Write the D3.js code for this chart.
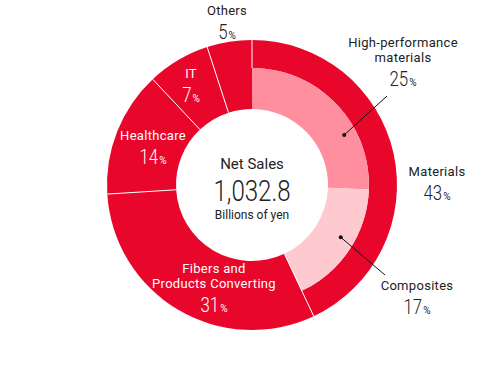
<!DOCTYPE html>
<html>
<head>
<meta charset="utf-8">
<script src="https://cdn.jsdelivr.net/npm/d3@7"></script>
<style>
  body { margin: 0; background: #fff; }
  text { font-family: Roboto, "Noto Sans", sans-serif; }
</style>
</head>
<body>
<div id="chart"></div>
<script>
const width = 500;
const height = 367;

// segments, clockwise from the top
const categories = ["Materials", "Fibers and Products Converting", "Healthcare", "IT", "Others"];
const shares = [43, 31, 14, 7, 5];
// split of Materials
const subCategories = ["High-performance materials", "Composites"];
const subShares = [25, 17];
const totalSales = "1,032.8";

const cx = 252, cy = 185;
const rOuter = 145, rMid = 117, rHole = 76;
const red = "#e9062b";
const subColors = ["#ff8e9e", "#ffc9d0"];
const squeeze = 0.8; // narrow digits like the original typeface

const svg = d3.select("#chart")
    .append("svg")
    .attr("width", width)
    .attr("height", height);

const g = svg.append("g").attr("transform", `translate(${cx},${cy})`);

const pie = d3.pie().sort(null).value(d => d);
const arcs = pie(shares);

const outerArc = d3.arc().innerRadius(rHole).outerRadius(rOuter);
const ringArc = d3.arc().innerRadius(rMid).outerRadius(rOuter);
const innerArc = d3.arc().innerRadius(rHole).outerRadius(rMid);

// outer ring
g.selectAll("path.seg")
    .data(arcs)
    .enter()
    .append("path")
    .attr("class", "seg")
    .attr("d", (d, i) => i === 0 ? ringArc(d) : outerArc(d))
    .attr("fill", red);

// Materials split in the inner part
const mat = arcs[0];
const subScale = d3.scaleLinear()
    .domain([0, d3.sum(subShares)])
    .range([mat.startAngle, mat.endAngle]);
let acc = 0;
const subArcs = subShares.map((v, i) => {
    const a = { startAngle: subScale(acc), endAngle: subScale(acc + v), value: v };
    acc += v;
    return a;
});
g.selectAll("path.sub")
    .data(subArcs)
    .enter()
    .append("path")
    .attr("class", "sub")
    .attr("d", innerArc)
    .attr("fill", (d, i) => subColors[i]);

// white separators between the outer segments
g.selectAll("line.sep")
    .data(arcs)
    .enter()
    .append("line")
    .attr("class", "sep")
    .attr("x1", d => d3.pointRadial(d.startAngle, d.index === 0 ? rMid : rHole)[0])
    .attr("y1", d => d3.pointRadial(d.startAngle, d.index === 0 ? rMid : rHole)[1])
    .attr("x2", d => d3.pointRadial(d.startAngle, rOuter)[0])
    .attr("y2", d => d3.pointRadial(d.startAngle, rOuter)[1])
    .attr("stroke", "#fff")
    .attr("stroke-width", 1);

// leader lines for the Materials split
const leaders = [
    { angle: 61.5, r: 105, end: [387 - cx, 96 - cy] },
    { angle: 120.5, r: 103, end: [385 - cx, 275 - cy] }
];
leaders.forEach(l => {
    const p = d3.pointRadial(l.angle * Math.PI / 180, l.r);
    g.append("line")
        .attr("x1", p[0]).attr("y1", p[1])
        .attr("x2", l.end[0]).attr("y2", l.end[1])
        .attr("stroke", "#111").attr("stroke-width", 1);
    g.append("circle")
        .attr("cx", p[0]).attr("cy", p[1]).attr("r", 2)
        .attr("fill", "#111");
});

// labels: name lines, then the share
const labelLayout = [
    { lines: ["Materials"], value: shares[0], x: 437, y: 176, color: "#222" },
    { lines: ["Fibers and", "Products Converting"], value: shares[1], x: 214, y: 273, color: "#fff" },
    { lines: ["Healthcare"], value: shares[2], x: 153, y: 140, color: "#fff" },
    { lines: ["IT"], value: shares[3], x: 191, y: 78, color: "#fff" },
    { lines: ["Others"], value: shares[4], x: 227, y: 15, color: "#222" },
    { lines: ["High-performance", "materials"], value: subShares[0], x: 403, y: 47, color: "#222" },
    { lines: ["Composites"], value: subShares[1], x: 417, y: 290, color: "#222" }
];

labelLayout.forEach(l => {
    const t = svg.append("text")
        .attr("text-anchor", "middle")
        .attr("fill", l.color);
    l.lines.forEach((line, i) => {
        t.append("tspan")
            .attr("x", l.x)
            .attr("y", l.y + i * 15)
            .attr("font-size", 13)
            .attr("letter-spacing", 0.3)
            .text(line);
    });

    // share: squeezed digits plus a small % sign, centred as a pair
    const vy = l.y + (l.lines.length - 1) * 15 + 24;
    const vg = svg.append("g");
    const num = vg.append("text")
        .attr("font-size", 21)
        .attr("font-weight", 300)
        .attr("fill", l.color)
        .attr("transform", `scale(${squeeze},1)`)
        .text(l.value);
    const pct = vg.append("text")
        .attr("font-size", 10)
        .attr("fill", l.color)
        .text("%");
    const nw = num.node().getComputedTextLength() * squeeze;
    const pw = pct.node().getComputedTextLength();
    pct.attr("x", nw + 1);
    vg.attr("transform", `translate(${l.x - (nw + 1 + pw) / 2},${vy})`);
});

// centre text
g.append("text")
    .attr("y", -16)
    .attr("text-anchor", "middle")
    .attr("font-size", 15)
    .attr("fill", "#222")
    .text("Net Sales");
g.append("text")
    .attr("transform", `translate(0,16) scale(0.83,1)`)
    .attr("text-anchor", "middle")
    .attr("font-size", 29)
    .attr("font-weight", 300)
    .attr("fill", "#222")
    .text(totalSales);
g.append("text")
    .attr("y", 34)
    .attr("text-anchor", "middle")
    .attr("font-size", 12)
    .attr("fill", "#222")
    .text("Billions of yen");
</script>
</body>
</html>
